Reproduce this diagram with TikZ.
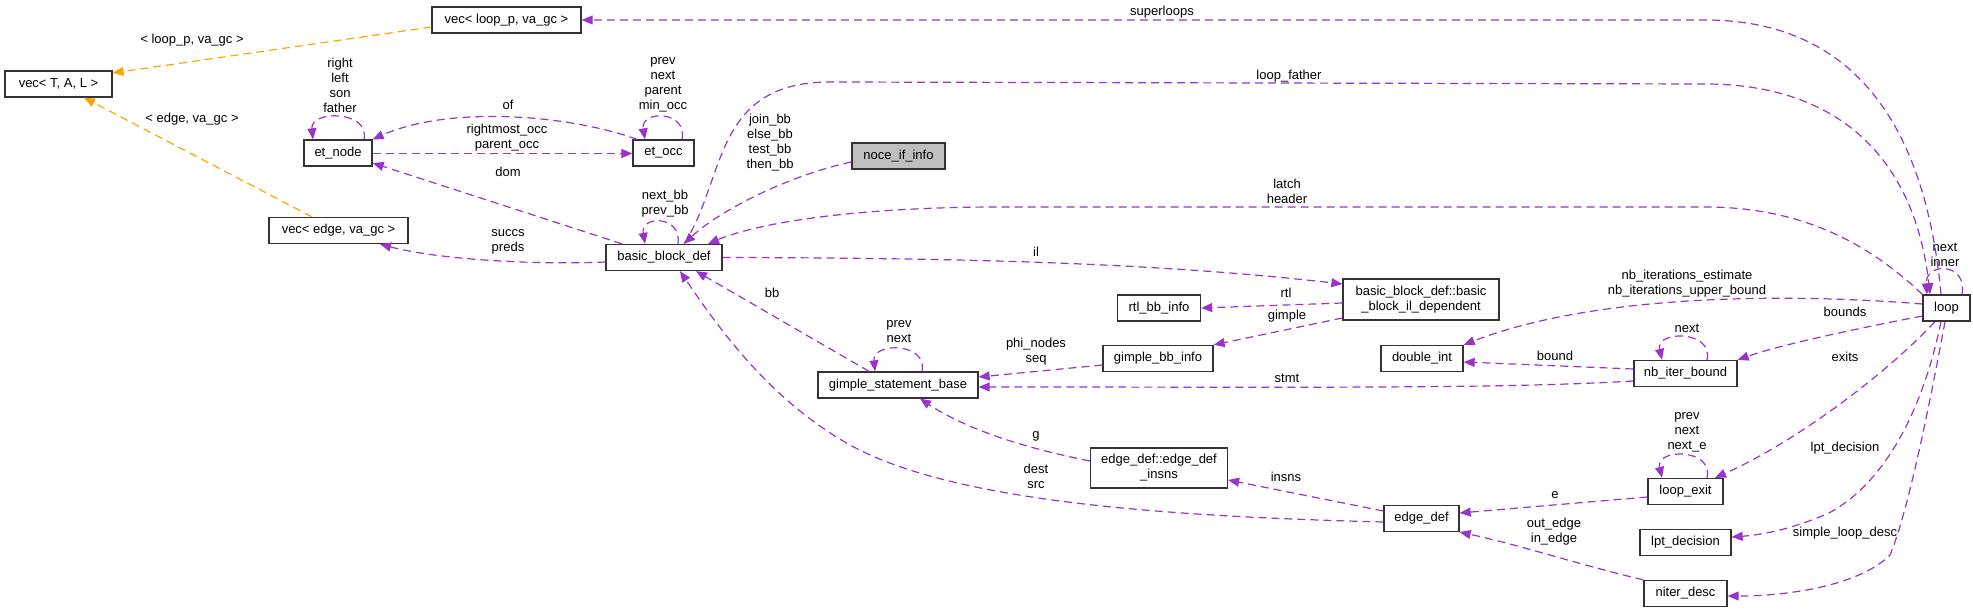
\documentclass[tikz,border=0pt]{standalone}
\usepackage{fontspec}
\setmainfont{Liberation Sans}
\usetikzlibrary{arrows.meta,calc}
\definecolor{purp}{HTML}{9A32CD}
\definecolor{orng}{HTML}{FFA500}
\definecolor{boxc}{HTML}{333333}
\definecolor{grayf}{HTML}{BFBFBF}
\newcommand{\lblfont}{\fontsize{13bp}{15bp}\selectfont}
\begin{document}
\begin{tikzpicture}[x=1bp,y=-1bp,
 cls/.style={draw=boxc, fill=white, line width=1.3bp, inner sep=0pt, minimum height=26bp, font=\lblfont, align=center},
 mem/.style={draw=purp, line width=1.2bp, dash pattern=on 8bp off 5bp, -{Triangle[length=11bp,width=9bp,fill=purp]}},
 tpl/.style={draw=orng, line width=1.2bp, dash pattern=on 8bp off 5bp, -{Triangle[length=11bp,width=9bp,fill=orng]}},
 lbl/.style={font=\lblfont, inner sep=0pt, align=center}]
\useasboundingbox (0,0) rectangle (1973,612);

% classes
\node[cls, minimum width=107bp] (vecTAL) at (58.5,84) {vec< T, A, L >};
\node[cls, minimum width=149bp] (vecloop) at (506.5,20) {vec< loop\_p, va\_gc >};
\node[cls, minimum width=68bp] (etnode) at (338,153) {et\_node};
\node[cls, minimum width=61bp] (etocc) at (663.5,153) {et\_occ};
\node[cls, minimum width=93bp, fill=grayf] (noce) at (898.5,156) {noce\_if\_info};
\node[cls, minimum width=139bp] (vecedge) at (338.5,230.5) {vec< edge, va\_gc >};
\node[cls, minimum width=116bp] (bbd) at (664,257.5) {basic\_block\_def};
\node[cls, minimum width=156bp, minimum height=41bp] (bbil) at (1421,299.5) {basic\_block\_def::basic\\\_block\_il\_dependent};
\node[cls, minimum width=83bp] (rtl) at (1159,308) {rtl\_bb\_info};
\node[cls, minimum width=110bp] (gbi) at (1158,358.5) {gimple\_bb\_info};
\node[cls, minimum width=160bp] (gsb) at (898,385) {gimple\_statement\_base};
\node[cls, minimum width=137bp, minimum height=40bp] (edi) at (1159,468) {edge\_def::edge\_def\\\_insns};
\node[cls, minimum width=82bp] (dint) at (1422,358.5) {double\_int};
\node[cls, minimum width=103bp] (nbib) at (1685.5,373.5) {nb\_iter\_bound};
\node[cls, minimum width=47bp] (loop) at (1946.5,308) {loop};
\node[cls, minimum width=75bp] (loopexit) at (1685.5,491.5) {loop\_exit};
\node[cls, minimum width=75bp] (edgedef) at (1421.5,518.5) {edge\_def};
\node[cls, minimum width=91bp] (lpt) at (1685.5,542.5) {lpt\_decision};
\node[cls, minimum width=83bp] (niter) at (1685.5,593.5) {niter\_desc};

% template edges
\draw[tpl] (vecloop.west |- 0,27) -- (vecTAL.east |- 0,73);
\draw[tpl] (vecedge.north -| 312,0) -- (vecTAL.south -| 84,0);

% member edges
\draw[mem] (loop.north -| 1941,0) .. controls (1925,120) and (1850,20) .. (1705,20) -- (vecloop.east);
\draw[mem] (bbd.north -| 684,0) .. controls (726,180) and (712,82) .. (830,82) -- (1705,84) .. controls (1840,84) and (1915,160) .. (loop.north -| 1930,0);
\draw[mem] (loop.north west) .. controls (1860,235) and (1790,207) .. (1705,207) -- (1000,207) .. controls (860,207) and (760,222) .. (bbd.north -| 708,0);
\draw[mem] (bbd.east) .. controls (950,258) and (1150,262) .. (bbil.west |- 0,284);
\draw[mem] (bbil.west |- 0,303) -- (rtl.east);
\draw[mem] (bbil.west |- 0,318) -- (gbi.north east);
\draw[mem] (gbi.west |- 0,365) -- (gsb.east |- 0,377);
\draw[mem] (nbib.west |- 0,381) .. controls (1500,389) and (1300,387) .. (gsb.east |- 0,387);
\draw[mem] (gsb.north -| 922,0) .. controls (928,342) and (872,342) .. (gsb.north -| 875,0);
\draw[mem] (gsb.north -| 869,0) -- (bbd.south -| 696,0);
\draw[mem] (edgedef.west |- 0,522) .. controls (1150,516) and (950,500) .. (850,445) .. controls (770,400) and (720,330) .. (bbd.south -| 680,0);
\draw[mem] (edi.west |- 0,461) .. controls (1010,445) and (960,425) .. (gsb.south -| 920,0);
\draw[mem] (edgedef.west |- 0,511) -- (edi.east |- 0,480);
\draw[mem] (loop.west |- 0,304) .. controls (1800,294) and (1600,292) .. (dint.north east);
\draw[mem] (nbib.west |- 0,369) -- (dint.east |- 0,362);
\draw[mem] (nbib.north -| 1707,0) .. controls (1714,330) and (1655,330) .. (nbib.north -| 1662,0);
\draw[mem] (loop.west |- 0,316) .. controls (1850,330) and (1780,345) .. (nbib.north east);
\draw[mem] (loop.south -| 1935,0) .. controls (1890,370) and (1800,440) .. (loopexit.north -| 1715,0);
\draw[mem] (loopexit.north -| 1707,0) .. controls (1714,448) and (1655,448) .. (loopexit.north -| 1662,0);
\draw[mem] (loopexit.west |- 0,497) -- (edgedef.east |- 0,513);
\draw[mem] (niter.north west) .. controls (1580,565) and (1520,545) .. (edgedef.south east);
\draw[mem] (loop.south -| 1941,0) .. controls (1925,400) and (1890,480) .. (1829,513) .. controls (1790,530) and (1760,535) .. (lpt.east |- 0,537);
\draw[mem] (loop.south -| 1945,0) .. controls (1925,430) and (1905,520) .. (1890,555) .. controls (1860,585) and (1790,596) .. (niter.east |- 0,596);
\draw[mem] (loop.north -| 1962,0) .. controls (1968,262) and (1925,262) .. (loop.north -| 1927,0);
\draw[mem] (etnode.north -| 364,0) .. controls (370,110) and (310,110) .. (etnode.north -| 313,0);
\draw[mem] (etocc.north -| 682,0) .. controls (688,110) and (640,110) .. (etocc.north -| 645,0);
\draw[mem] (etocc.north -| 637,0) .. controls (570,115) and (450,105) .. (etnode.north east);
\draw[mem] (etnode.east |- 0,153.5) -- (etocc.west |- 0,153.5);
\draw[mem] (bbd.north -| 622,0) -- (etnode.east |- 0,163);
\draw[mem] (bbd.west |- 0,262) .. controls (540,265) and (440,260) .. (vecedge.south -| 380,0);
\draw[mem] (bbd.north -| 678,0) .. controls (682,215) and (640,215) .. (bbd.north -| 645,0);
\draw[mem] (noce.west |- 0,162) .. controls (790,175) and (720,210) .. (bbd.north -| 684,0);

% labels
\node[lbl] (l1) at (192,40) {< loop\_p, va\_gc >};
\node[lbl] (l2) at (192,119) {< edge, va\_gc >};
\node[lbl] (l3) at (1162,12) {superloops};
\node[lbl] (l4) at (1289,76) {loop\_father};
\node[lbl] (l5) at (1287,191) {latch\\header};
\node[lbl] (l6) at (1036,252) {il};
\node[lbl] (l7) at (1286,293) {rtl};
\node[lbl] (l8) at (1287,316) {gimple};
\node[lbl] (l9) at (1036,352) {phi\_nodes\\seq};
\node[lbl] (l10) at (1287,378) {stmt};
\node[lbl] (l11) at (899,332) {prev\\next};
\node[lbl] (l12) at (772,293) {bb};
\node[lbl] (l13) at (1036,476) {dest\\src};
\node[lbl] (l14) at (1036,436) {g};
\node[lbl] (l15) at (1286,477) {insns};
\node[lbl] (l16) at (1687,284) {nb\_iterations\_estimate\\nb\_iterations\_upper\_bound};
\node[lbl] (l17) at (1555,356) {bound};
\node[lbl] (l18) at (1687,328) {next};
\node[lbl] (l19) at (1845,312) {bounds};
\node[lbl] (l20) at (1845,357) {exits};
\node[lbl] (l21) at (1687,432) {prev\\next\\next\_e};
\node[lbl] (l22) at (1555,495) {e};
\node[lbl] (l23) at (1554,532) {out\_edge\\in\_edge};
\node[lbl] (l24) at (1845,448) {lpt\_decision};
\node[lbl] (l25) at (1845,533) {simple\_loop\_desc};
\node[lbl] (l26) at (1945,255) {next\\inner};
\node[lbl] (l27) at (340,85) {right\\left\\son\\father};
\node[lbl] (l28) at (663,85) {prev\\next\\parent\\min\_occ};
\node[lbl] (l29) at (508,105) {of};
\node[lbl] (l30) at (507,138) {rightmost\_occ\\parent\_occ};
\node[lbl] (l31) at (508,172) {dom};
\node[lbl] (l32) at (508,242) {succs\\preds};
\node[lbl] (l33) at (665,204) {next\_bb\\prev\_bb};
\node[lbl] (l34) at (770,143) {join\_bb\\else\_bb\\test\_bb\\then\_bb};
\end{tikzpicture}
\end{document}
